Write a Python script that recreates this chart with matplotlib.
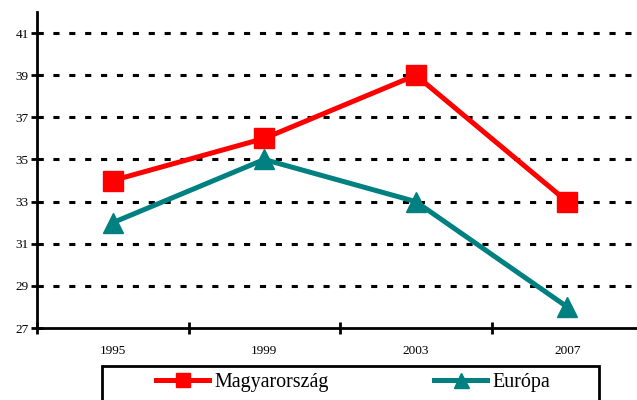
import numpy as np
import matplotlib.pyplot as plt
from matplotlib.patches import Rectangle

years = ['1995', '1999', '2003', '2007']
magyar = [34, 36, 39, 33]
europa = [32, 35, 33, 28]
yticks = [27, 29, 31, 33, 35, 37, 39, 41]

plt.rcParams['font.family'] = 'Liberation Serif'

fig = plt.figure(figsize=(6.37, 4.0), dpi=100)
ax = fig.add_axes([37/637, 72/400, 606/637, 316/400])

x = np.arange(len(years))
ax.plot(x, magyar, color='#ff0000', lw=3.6, marker='s', ms=14,
        label='Magyarország', zorder=3)
ax.plot(x, europa, color='#008080', lw=3.6, marker='^', ms=15,
        label='Európa', zorder=3)

ax.set_xlim(-0.5, 3.5)
ax.set_ylim(27, 42)
ax.set_yticks(yticks)
ax.set_yticklabels([str(v) for v in yticks], fontsize=9.5)
for v in yticks[1:]:
    ax.axhline(v, color='black', lw=2.2, dashes=(2, 3.2), zorder=1)

ax.set_xticks(np.arange(-0.5, 4.0, 1.0))
ax.set_xticklabels([])
ax.set_xticks(x, minor=True)
ax.set_xticklabels(years, minor=True, fontsize=9.5)
ax.tick_params(axis='x', which='minor', length=0, pad=12)
ax.tick_params(axis='both', which='major', direction='inout', length=8,
               width=2, color='black')
ax.tick_params(axis='y', pad=2)

for s in ['top', 'right']:
    ax.spines[s].set_visible(False)
for s in ['left', 'bottom']:
    ax.spines[s].set_linewidth(2)

# legend box runs off the bottom of the picture
fig.patches.append(Rectangle((102/637, -0.1), 497/637, 0.1 + 34/400,
                             transform=fig.transFigure, fill=False,
                             edgecolor='black', lw=2))
fig.legend(loc='center left', bbox_to_anchor=(156/637, 1 - 382/400),
           ncol=2, frameon=False, borderpad=0, borderaxespad=0,
           handlelength=2.65, handletextpad=0.25, columnspacing=5.3,
           markerscale=0.72, fontsize=14.4)

fig.savefig('out.png', dpi=100)
